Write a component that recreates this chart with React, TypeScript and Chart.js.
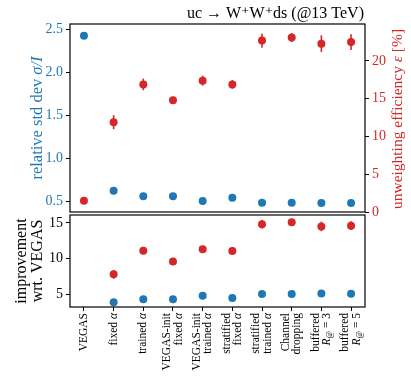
import React, { useEffect, useRef } from "react";
import { Chart, registerables } from "chart.js";
Chart.register(...registerables);

// ---------- data ----------
// "_" prefix marks italic (math) parts, "~" marks subscript parts
const categories: string[][][] = [
  [["VEGAS"]],
  [["fixed ", "_α"]],
  [["trained ", "_α"]],
  [["VEGAS-init"], ["fixed ", "_α"]],
  [["VEGAS-init"], ["trained ", "_α"]],
  [["stratified"], ["fixed ", "_α"]],
  [["stratified"], ["trained ", "_α"]],
  [["Channel"], ["dropping"]],
  [["buffered"], ["_R", "~@", " = 3"]],
  [["buffered"], ["_R", "~@", " = 5"]],
];
const relStdDev = [2.425, 0.62, 0.555, 0.555, 0.5, 0.538, 0.48, 0.48, 0.477, 0.477];
const unwEff = [1.5, 11.9, 16.9, 14.8, 17.4, 16.9, 22.7, 23.1, 22.3, 22.5];
const unwEffErr = [0.2, 0.93, 0.77, 0.45, 0.66, 0.57, 0.95, 0.6, 1.1, 1.04];
const impStdDev: (number | null)[] = [null, 3.9, 4.33, 4.33, 4.82, 4.5, 5.05, 5.05, 5.13, 5.1];
const impEff: (number | null)[] = [null, 7.8, 11.1, 9.6, 11.3, 11.05, 14.8, 15.07, 14.5, 14.6];
const impEffErr = [0, 0.61, 0.4, 0.3, 0.4, 0.35, 0.59, 0.4, 0.68, 0.61];
const leftTicks = [0.5, 1.0, 1.5, 2.0, 2.5];
const rightTicks = [0, 5, 10, 15, 20];
const bottomTicks = [5, 10, 15];
const xTicks = [0, 1, 2, 3, 4, 5, 6, 7, 8, 9];

const BLUE = "#1f77b4";
const RED = "#d62728";
const SERIF = "'Liberation Serif', 'DejaVu Serif', serif";

const pts = (arr: (number | null)[]) =>
  arr.map((v, i) => (v === null ? null : { x: i, y: v })).filter((p) => p !== null) as { x: number; y: number }[];

const tickGrid = { display: true, drawOnChartArea: false, drawTicks: true, tickLength: 4, color: "#000", lineWidth: 1 };

function makeErrPlugin(values: (number | null)[], errs: number[], yId: string) {
  return {
    id: "errbars_" + yId,
    beforeDatasetsDraw(chart: any) {
      const ctx = chart.ctx;
      const xs = chart.scales.x;
      const ys = chart.scales[yId];
      ctx.save();
      ctx.strokeStyle = RED;
      ctx.lineWidth = 1.6;
      values.forEach((v, i) => {
        if (v === null) return;
        const x = xs.getPixelForValue(i);
        ctx.beginPath();
        ctx.moveTo(x, ys.getPixelForValue(v - errs[i]));
        ctx.lineTo(x, ys.getPixelForValue(v + errs[i]));
        ctx.stroke();
      });
      ctx.restore();
    },
  };
}

const framePlugin = {
  id: "frame",
  afterDatasetsDraw(chart: any) {
    const { left, top, right, bottom } = chart.chartArea;
    const ctx = chart.ctx;
    ctx.save();
    ctx.strokeStyle = "#000";
    ctx.lineWidth = 1.2;
    ctx.strokeRect(left, top, right - left, bottom - top);
    ctx.restore();
  },
};

// rich rotated text: parts prefixed "_" are italic, "~" are subscript
function richV(ctx: any, parts: string[], x: number, y: number, color: string, size: number, align: "center" | "right") {
  const fontOf = (p: string) => {
    if (p.startsWith("_")) return `italic ${size}px ${SERIF}`;
    if (p.startsWith("~")) return `${size * 0.7}px ${SERIF}`;
    return `${size}px ${SERIF}`;
  };
  const textOf = (p: string) => (p.startsWith("_") || p.startsWith("~") ? p.slice(1) : p);
  ctx.save();
  ctx.translate(x, y);
  ctx.rotate(-Math.PI / 2);
  ctx.fillStyle = color;
  ctx.textAlign = "left";
  ctx.textBaseline = "middle";
  let total = 0;
  const widths = parts.map((p) => {
    ctx.font = fontOf(p);
    const w = ctx.measureText(textOf(p)).width;
    total += w;
    return w;
  });
  let cx = align === "center" ? -total / 2 : -total;
  parts.forEach((p, i) => {
    ctx.font = fontOf(p);
    const dy = p.startsWith("~") ? size * 0.25 : 0;
    ctx.fillText(textOf(p), cx, dy);
    cx += widths[i];
  });
  ctx.restore();
}

const topTextPlugin = {
  id: "topText",
  afterDraw(chart: any) {
    const ctx = chart.ctx;
    const { top, bottom, right } = chart.chartArea;
    const cy = (top + bottom) / 2;
    ctx.save();
    ctx.fillStyle = "#000";
    ctx.font = `16px ${SERIF}`;
    ctx.textAlign = "right";
    ctx.textBaseline = "alphabetic";
    ctx.fillText("uc → W⁺W⁺ds (@13 TeV)", right - 1, 18);
    ctx.restore();
    richV(ctx, ["relative std dev ", "_σ/I"], 38, cy, BLUE, 16.5, "center");
    richV(ctx, ["unweighting efficiency ", "_ε", " [%]"], 398, cy + 1, RED, 15.5, "center");
  },
};

const bottomTextPlugin = {
  id: "bottomText",
  afterDraw(chart: any) {
    const ctx = chart.ctx;
    const { top, bottom } = chart.chartArea;
    const cy = (top + bottom) / 2;
    richV(ctx, ["improvement"], 22, cy, "#000", 16, "center");
    richV(ctx, ["wrt. VEGAS"], 38, cy, "#000", 16, "center");
    const xs = chart.scales.x;
    const lineH = 11.5;
    categories.forEach((lines, i) => {
      const px = xs.getPixelForValue(xTicks[i]);
      const n = lines.length;
      lines.forEach((ln, j) => {
        const lx = px + (j - (n - 1) / 2) * lineH;
        richV(ctx, ln, lx, bottom + 6, "#000", 11.5, "right");
      });
    });
  },
};

const noPad = (w: number) => (s: any) => {
  s.width = w;
  s.paddingTop = 0;
  s.paddingBottom = 0;
};

export default function App() {
  const topRef = useRef<HTMLCanvasElement>(null);
  const botRef = useRef<HTMLCanvasElement>(null);

  useEffect(() => {
    document.body.style.margin = "0";
    Chart.defaults.font.family = SERIF;
    const xCommon = {
      type: "linear" as const,
      min: -0.47,
      max: 9.47,
      afterBuildTicks: (s: any) => {
        s.ticks = xTicks.map((v) => ({ value: v }));
      },
    };
    const top = new Chart(topRef.current!, {
      type: "scatter",
      data: {
        datasets: [
          { data: pts(relStdDev), yAxisID: "y", backgroundColor: BLUE, borderWidth: 0, pointRadius: 4, pointHoverRadius: 4 },
          { data: pts(unwEff), yAxisID: "y2", backgroundColor: RED, borderWidth: 0, pointRadius: 4, pointHoverRadius: 4 },
        ],
      },
      options: {
        responsive: true,
        maintainAspectRatio: false,
        animation: false,
        events: [],
        layout: { padding: { top: 24, bottom: 18, left: 0, right: 0 } },
        plugins: { legend: { display: false }, tooltip: { enabled: false } },
        scales: {
          x: { ...xCommon, display: false },
          y: {
            position: "left",
            min: 0.372,
            max: 2.562,
            afterBuildTicks: (s: any) => {
              s.ticks = leftTicks.map((v) => ({ value: v }));
            },
            afterFit: noPad(70),
            grid: tickGrid,
            border: { display: false },
            ticks: { color: BLUE, font: { size: 14, family: SERIF }, padding: 3, callback: (v: any) => Number(v).toFixed(1) },
          },
          y2: {
            position: "right",
            min: 0,
            max: 24.9,
            afterBuildTicks: (s: any) => {
              s.ticks = rightTicks.map((v) => ({ value: v }));
            },
            afterFit: noPad(46),
            grid: tickGrid,
            border: { display: false },
            ticks: { color: RED, font: { size: 14, family: SERIF }, padding: 3, callback: (v: any) => String(v) },
          },
        },
      } as any,
      plugins: [makeErrPlugin(unwEff, unwEffErr, "y2"), framePlugin, topTextPlugin],
    });

    const bot = new Chart(botRef.current!, {
      type: "scatter",
      data: {
        datasets: [
          { data: pts(impStdDev), yAxisID: "y", backgroundColor: BLUE, borderWidth: 0, pointRadius: 4, pointHoverRadius: 4 },
          { data: pts(impEff), yAxisID: "y", backgroundColor: RED, borderWidth: 0, pointRadius: 4, pointHoverRadius: 4 },
        ],
      },
      options: {
        responsive: true,
        maintainAspectRatio: false,
        animation: false,
        events: [],
        layout: { padding: { top: 1, bottom: 0, left: 0, right: 46 } },
        plugins: { legend: { display: false }, tooltip: { enabled: false } },
        scales: {
          x: {
            ...xCommon,
            position: "bottom",
            afterFit: (s: any) => {
              s.height = 70;
              s.paddingLeft = 0;
              s.paddingRight = 0;
            },
            grid: tickGrid,
            border: { display: false },
            ticks: { display: false },
          },
          y: {
            position: "left",
            min: 3.23,
            max: 16.1,
            afterBuildTicks: (s: any) => {
              s.ticks = bottomTicks.map((v) => ({ value: v }));
            },
            afterFit: noPad(70),
            grid: tickGrid,
            border: { display: false },
            ticks: { color: "#000", font: { size: 14, family: SERIF }, padding: 3, callback: (v: any) => String(v) },
          },
        },
      } as any,
      plugins: [makeErrPlugin(impEff, impEffErr, "y"), framePlugin, bottomTextPlugin],
    });

    return () => {
      top.destroy();
      bot.destroy();
    };
  }, []);

  return (
    <div style={{ position: "relative", width: 411, height: 377, background: "#fff" }}>
      <div style={{ position: "absolute", left: 0, top: 0, width: 411, height: 230 }}>
        <canvas ref={topRef} />
      </div>
      <div style={{ position: "absolute", left: 0, top: 211, width: 411, height: 166 }}>
        <canvas ref={botRef} />
      </div>
    </div>
  );
}
